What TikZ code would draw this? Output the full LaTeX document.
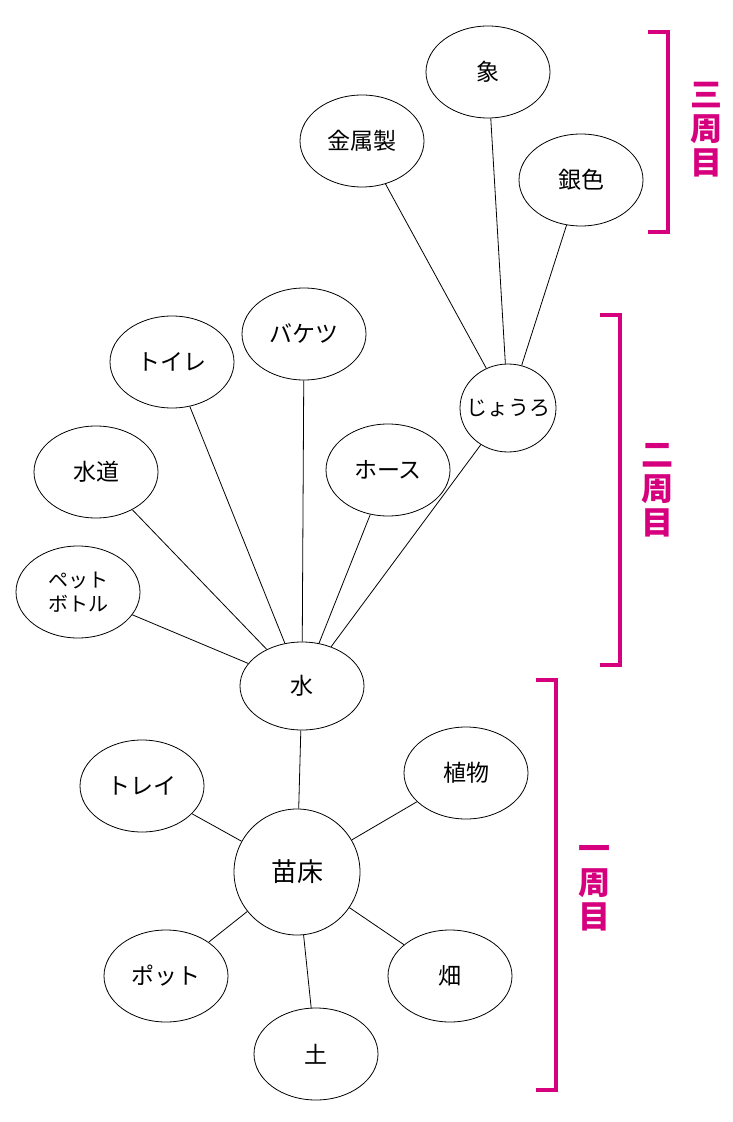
\documentclass[tikz,border=0pt]{standalone}
\usepackage{fontspec}
\setmainfont{Noto Sans CJK JP}
\usetikzlibrary{shapes.geometric}
\definecolor{roundcolor}{RGB}{214,0,127}

\begin{document}
\begin{tikzpicture}[
    x=0.5pt, y=-0.5pt,
    bubble/.style={draw, ellipse, minimum width=62pt, minimum height=46pt, inner sep=0pt, font=\fontsize{11.5}{13}\selectfont, align=center},
    link/.style={draw, line width=0.4pt},
    bracket/.style={draw=roundcolor, line width=1.6pt},
    round/.style={text=roundcolor, font=\fontsize{16}{17}\selectfont\bfseries, align=center}
]
    \useasboundingbox (0,0) rectangle (732,1122);
    % third round
    \node[bubble] (zou) at (488,72) {象};
    \node[bubble] (kinzoku) at (362,141) {金属製};
    \node[bubble] (gin) at (581,180) {銀色};
    % second round
    \node[bubble] (baketsu) at (304,334) {バケツ};
    \node[bubble] (toire) at (172,362) {トイレ};
    \node[bubble, minimum width=48pt, minimum height=44pt, inner xsep=-7pt, font=\fontsize{10.5}{12}\selectfont] (jouro) at (508,408) {じょうろ};
    \node[bubble] (suidou) at (96,472) {水道};
    \node[bubble] (hose) at (388,470) {ホース};
    \node[bubble, font=\fontsize{10}{12}\selectfont] (petto) at (78,592) {ペット\\ボトル};
    % first round
    \node[bubble, minimum height=44pt] (mizu) at (302,686) {水};
    \node[bubble] (torei) at (142,786) {トレイ};
    \node[bubble] (shokubutsu) at (466,773) {植物};
    \node[bubble, minimum width=63pt, minimum height=63pt, font=\fontsize{13}{15}\selectfont] (naedoko) at (297,872) {苗床};
    \node[bubble] (potto) at (166,976) {ポット};
    \node[bubble] (hatake) at (450,976) {畑};
    \node[bubble] (tsuchi) at (316,1054) {土};

    % Connections
    \draw[link] (jouro) -- (zou);
    \draw[link] (jouro) -- (kinzoku);
    \draw[link] (jouro) -- (gin);
    \draw[link] (mizu) -- (petto);
    \draw[link] (mizu) -- (suidou);
    \draw[link] (mizu) -- (toire);
    \draw[link] (mizu) -- (baketsu);
    \draw[link] (mizu) -- (hose);
    \draw[link] (mizu) -- (jouro);
    \draw[link] (mizu) -- (naedoko);
    \draw[link] (naedoko) -- (torei);
    \draw[link] (naedoko) -- (shokubutsu);
    \draw[link] (naedoko) -- (potto);
    \draw[link] (naedoko) -- (hatake);
    \draw[link] (naedoko) -- (tsuchi);

    % Round brackets
    \draw[bracket] (648,32) -- (668,32) -- (668,232) -- (648,232);
    \node[round] (r3) at (706,130) {三\\周\\目};
    \draw[bracket] (600,315) -- (620,315) -- (620,665) -- (600,665);
    \node[round] (r2) at (657,490) {二\\周\\目};
    \draw[bracket] (536,680) -- (556,680) -- (556,1090) -- (536,1090);
    \node[round] (r1) at (594,888) {一\\周\\目};
\end{tikzpicture}
\end{document}
